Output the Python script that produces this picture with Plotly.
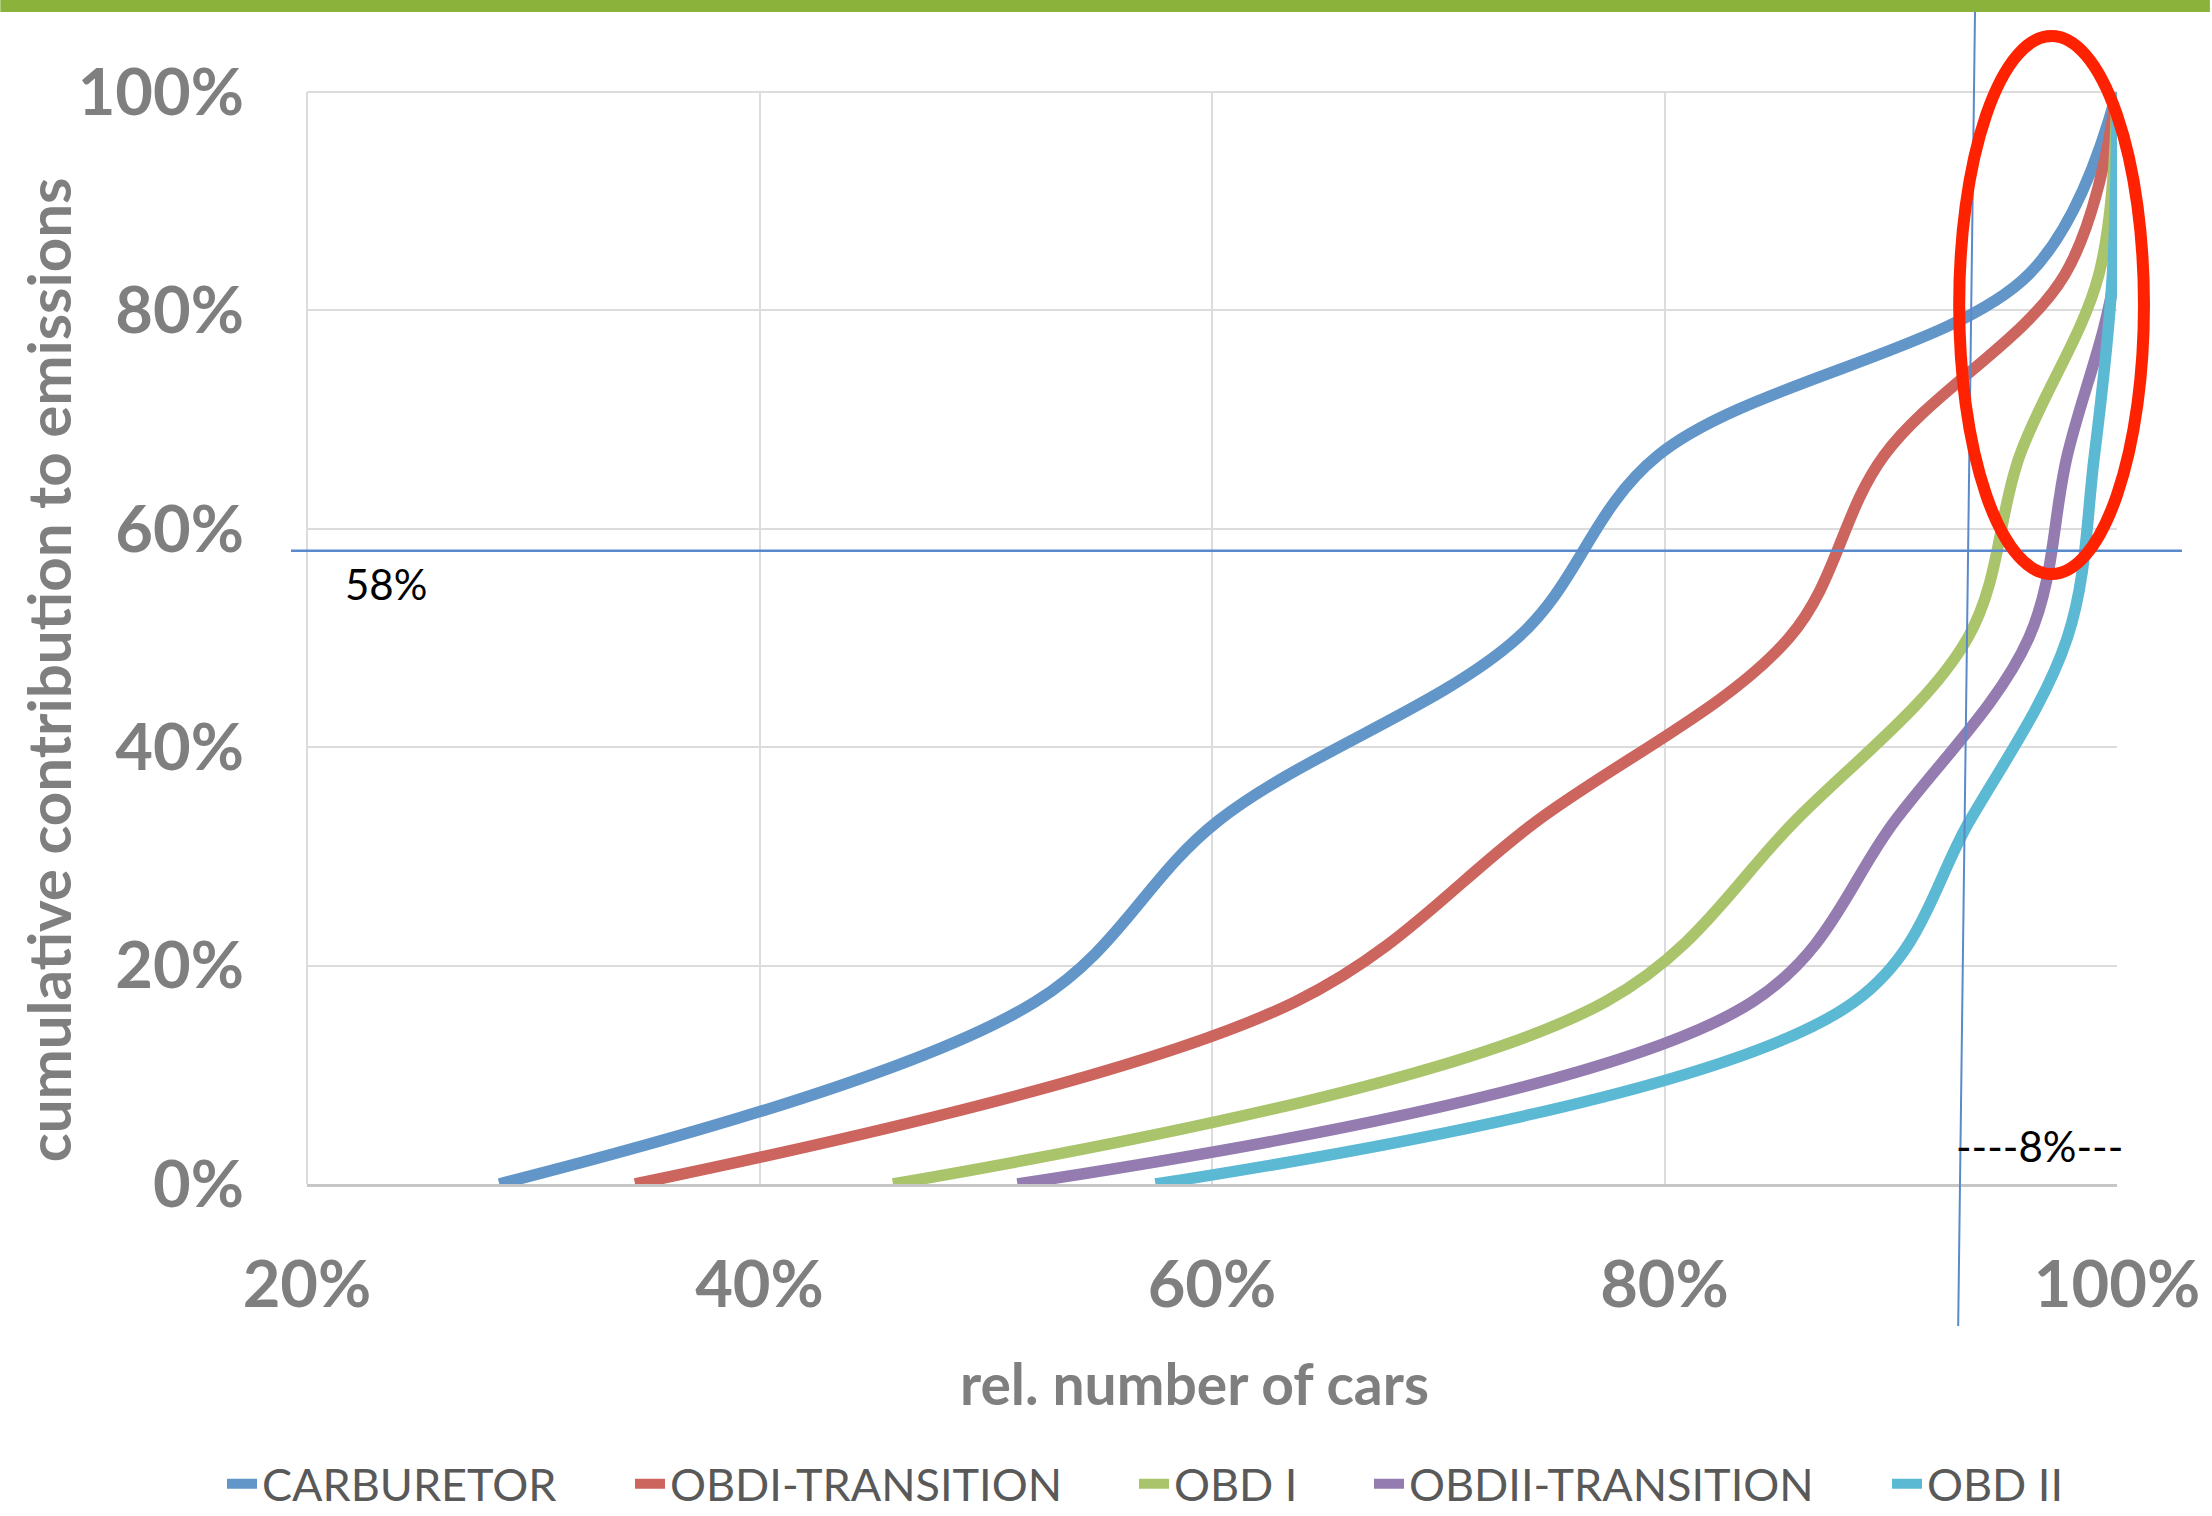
import plotly.graph_objects as go

# ---- data -------------------------------------------------------------
# cumulative contribution to emissions reached at each curve point
cum_share = [0.0, 0.167, 0.333, 0.5, 0.667, 0.833, 1.0]

# cumulative relative number of cars for each technology group
carburetor = [0.285, 0.522, 0.603, 0.735, 0.797, 0.961, 1.0]
obdi_transition = [0.345, 0.637, 0.744, 0.855, 0.897, 0.977, 1.0]
obd_1 = [0.459, 0.774, 0.858, 0.934, 0.957, 0.992, 1.0]
obdii_transition = [0.514, 0.839, 0.902, 0.961, 0.978, 0.999, 1.0]
obd_2 = [0.575, 0.884, 0.935, 0.978, 0.990, 0.998, 1.0]

series_names = ["CARBURETOR", "OBDI-TRANSITION", "OBD I", "OBDII-TRANSITION", "OBD II"]
series_x = [carburetor, obdi_transition, obd_1, obdii_transition, obd_2]

x_ticks = [0.2, 0.4, 0.6, 0.8, 1.0]
y_ticks = [0.0, 0.2, 0.4, 0.6, 0.8, 1.0]

threshold_share = 0.58
threshold_label = "58%"
gap_label = "----8%---"

# ---- styling ------------------------------------------------------------
colors = ["#6296C9", "#CD655F", "#AAC46C", "#947CB1", "#5CB9D3"]
GRAY = "#7F7F7F"
GRID = "#DCDCDC"
FONT = "Lato"

W, H = 2212, 1516
PLOT_L, PLOT_R, PLOT_T, PLOT_B = 307, 2119, 92, 1184
X_RANGE = [0.2, 1.0]
Y_RANGE = [0.0, 1.0]


def px_x(X):
    return (X - PLOT_L) / (PLOT_R - PLOT_L)


def px_y(Y):
    return (PLOT_B - Y) / (PLOT_B - PLOT_T)


def share_to_paper(v):
    return (v - Y_RANGE[0]) / (Y_RANGE[1] - Y_RANGE[0])


fig = go.Figure()

# one single-entry legend per series so each entry sits at its own spot
legend_text_x = [262, 670, 1174, 1409, 1927]
legend_ids = ["legend", "legend2", "legend3", "legend4", "legend5"]

for name, xs, col, lid in zip(series_names, series_x, colors, legend_ids):
    fig.add_trace(go.Scatter(
        x=xs, y=cum_share, name=name, mode="lines",
        line=dict(color=col, width=11.5, shape="spline", smoothing=1.0),
        legend=lid, showlegend=True, hoverinfo="skip",
    ))

legend_layouts = {}
for lid, tx in zip(legend_ids, legend_text_x):
    legend_layouts[lid] = dict(
        orientation="h", xref="container", yref="container",
        x=(tx - 40) / W, y=1 - 1484 / H,
        xanchor="left", yanchor="middle",
        font=dict(family=FONT, size=45, color="#595959"),
        bgcolor="rgba(0,0,0,0)", borderwidth=0,
    )

axis_common = dict(
    showgrid=True, gridcolor=GRID, gridwidth=2,
    zeroline=False, ticks="",
    tickfont=dict(family=FONT, size=65, color=GRAY, weight="bold"),
    tickformat=".0%",
)

shapes = [
    # plot-area top and left edges in grid colour
    dict(type="line", xref="paper", yref="paper", x0=0, x1=1, y0=1, y1=1,
         line=dict(color=GRID, width=2), layer="below"),
    dict(type="line", xref="paper", yref="paper", x0=0, x1=0, y0=0, y1=1,
         line=dict(color=GRID, width=2), layer="below"),
    # horizontal threshold line
    dict(type="line", xref="paper", yref="paper",
         x0=px_x(291), x1=px_x(2184),
         y0=share_to_paper(threshold_share), y1=share_to_paper(threshold_share),
         line=dict(color="#5A8ACB", width=2.5), layer="above"),
    # slanted cut-off line
    dict(type="line", xref="paper", yref="paper",
         x0=px_x(1977), y0=px_y(0), x1=px_x(1960), y1=px_y(1326),
         line=dict(color="#5A8ACB", width=2), layer="above"),
    # highlight ellipse
    dict(type="circle", xref="paper", yref="paper",
         x0=px_x(1961), x1=px_x(2146), y0=px_y(574), y1=px_y(36),
         line=dict(color="#FF2200", width=12), layer="above"),
    # header band
    dict(type="rect", xref="paper", yref="paper",
         x0=px_x(0), x1=px_x(W), y0=px_y(0), y1=px_y(12),
         fillcolor="#8BB33B", line=dict(width=0), layer="above"),
]

annotations = [
    dict(text="cumulative contribution to emissions", textangle=-90,
         xref="paper", yref="paper", x=px_x(48), y=px_y(670),
         xanchor="center", yanchor="middle", showarrow=False,
         font=dict(family=FONT, size=60, color=GRAY, weight="bold")),
    dict(text="rel. number of cars",
         xref="paper", yref="paper", x=px_x(1195), y=px_y(1383),
         xanchor="center", yanchor="middle", showarrow=False,
         font=dict(family=FONT, size=57, color=GRAY, weight="bold")),
    dict(text=threshold_label, xref="paper", yref="paper",
         x=px_x(343), y=px_y(584), xanchor="left", yanchor="middle",
         showarrow=False, font=dict(family=FONT, size=42, color="#000000")),
    dict(text=gap_label, xref="paper", yref="paper",
         x=px_x(2041), y=px_y(1146), xanchor="center", yanchor="middle",
         showarrow=False, font=dict(family=FONT, size=42, color="#000000")),
]

fig.update_layout(
    width=W, height=H,
    margin=dict(l=PLOT_L, r=W - PLOT_R, t=PLOT_T, b=H - PLOT_B),
    paper_bgcolor="white", plot_bgcolor="white",
    showlegend=True,
    xaxis=dict(range=X_RANGE, tickvals=x_ticks,
               showline=True, linecolor="#C6C6C6", linewidth=3,
               ticklabelstandoff=42,
               **axis_common),
    yaxis=dict(range=Y_RANGE, tickvals=y_ticks,
               showline=False,
               ticklabelstandoff=62,
               **axis_common),
    shapes=shapes,
    annotations=annotations,
    **legend_layouts,
)

fig.write_html("out.html")
